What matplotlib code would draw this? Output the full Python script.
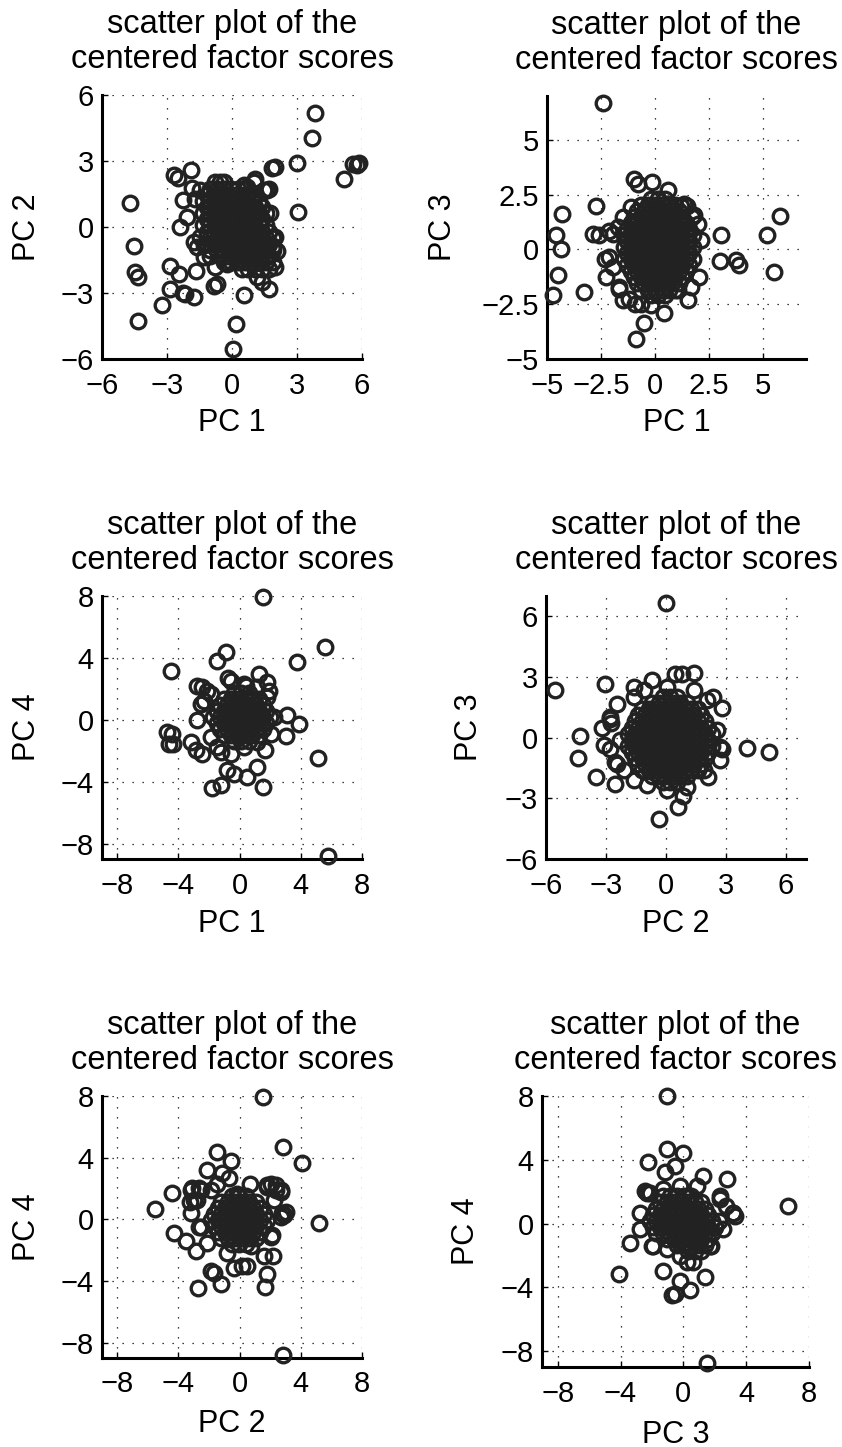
import numpy as np
import matplotlib
matplotlib.use("Agg")
import matplotlib.pyplot as plt

plt.rcParams['font.family'] = ['Liberation Sans', 'DejaVu Sans']

# scattered scores (x, y) for each pair of components
pc1_pc2 = [
    (3.85, 5.18), (3.7, 4.06), (3.0, 2.9), (5.6, 2.85), (5.85, 2.9), (5.75, 2.8), (5.15, 2.2), (3.05, 0.68),
    (-4.72, 1.07), (-4.54, -0.87), (-4.46, -2.05), (-4.35, -2.28), (-4.35, -4.29), (-3.23, -3.55),
    (-2.85, -2.82), (-2.88, -1.78), (-2.43, -2.13), (-2.15, -3.04), (-1.77, -3.2), (-2.27, -2.98),
    (-1.66, -1.98), (-0.85, -2.66), (-0.7, -2.6), (0.57, -3.07), (0.2, -4.41), (0.05, -5.56),
    (1.69, -2.82), (1.38, -2.51), (-2.66, 2.36), (-2.5, 2.25), (-1.89, 2.59), (-2.26, 1.22),
    (-2.38, 0.0), (-2.08, 0.46), (-1.74, -0.68), (1.77, 0.64), (1.85, 2.66), (2.0, 2.74), (1.46, 1.67),
    (1.08, 2.2), (0.54, 1.9), (-0.54, 2.05), (1.72, 1.71), (1.9, -0.86), (-1.86, 1.79),
    (-1.3, -0.8), (-1.0, -1.3), (-0.77, 2.05), (-0.38, 2.05), (-1.46, 1.67), (-1.69, 1.29),
    (-1.46, -0.46), (-1.62, -0.91), (-1.31, -1.37), (-0.77, -1.83), (-0.23, -1.67), (1.15, -2.28),
    (2.0, -1.83), (2.08, -1.07), (2.0, -0.46), (0.69, 1.83), (1.0, 2.05), (1.62, 1.67),
]
pc1_pc3 = [
    (-2.42, 6.68), (-4.32, 1.62), (-4.58, 0.67), (-4.35, 0.03), (-4.5, -1.18), (-4.74, -2.09),
    (-3.27, -1.94), (-2.73, 2.0), (-2.89, 0.71), (-2.58, 0.64), (-2.27, -1.26), (3.06, 0.64),
    (3.02, -0.55), (3.75, -0.5), (3.9, -0.7), (5.17, 0.64), (5.79, 1.52), (5.52, -1.03), (0.43, -2.9),
    (-0.52, -3.38), (-0.88, -4.11), (1.51, -2.29), (-0.96, 3.22), (-0.8, 2.99), (-0.14, 3.07),
    (0.62, 2.69), (1.36, 2.08), (1.5, 2.0), (1.82, 1.55), (2.05, -1.26), (-1.5, -2.3), (-0.91, -2.47),
    (-0.2, -2.55), (-1.68, -1.79), (-2.15, 0.86), (-2.3, -0.43), (-1.73, 1.02), (-1.96, 0.71),
    (-2.11, -0.35), (-1.96, -0.8), (-1.65, -1.71), (-1.19, -2.25), (-0.65, -2.47), (1.05, -1.87),
    (1.67, -1.71), (2.13, 0.41), (1.98, 1.17), (1.74, 1.47), (1.2, 2.0), (-1.11, 1.93), (-1.5, 1.47),
]
pc1_pc4 = [
    (1.53, 7.94), (5.79, -8.78), (5.57, 4.68), (3.73, 3.71), (-4.48, 3.18), (-0.87, 4.36), (-1.51, 3.78),
    (-4.74, -0.79), (-4.41, -0.9), (-4.63, -1.59), (-4.34, -1.55), (-3.21, -1.44), (-2.88, -1.97),
    (-2.45, -2.19), (-1.79, -4.44), (-1.24, -4.23), (-0.85, -3.26), (-0.37, -3.48), (0.5, -3.69),
    (1.16, -3.05), (1.55, -4.33), (1.66, -1.97), (3.08, 0.34), (3.89, -0.26), (3.01, -1.05), (5.13, -2.45),
    (-2.77, 2.21), (-2.45, 2.1), (-2.12, 1.89), (-2.34, 1.24), (-2.77, -0.04), (-0.74, 2.7), (1.29, 2.96),
    (1.81, 2.42), (1.92, 1.89), (0.39, 2.21), (-1.24, -2.08), (-1.9, 1.67), (-2.55, 1.03),
    (-1.9, -1.12), (-1.46, -1.76), (-0.59, -2.19), (0.28, -1.76), (1.16, -1.44), (2.03, -0.9),
    (2.25, 0.17), (1.81, 1.46), (1.16, 2.1), (0.28, 2.32), (-0.59, 2.53),
]
pc2_pc3 = [
    (0.02, 6.67), (-5.53, 2.36), (-3.07, 2.66), (-4.32, 0.07), (-4.42, -1.03), (-3.48, -1.93),
    (-2.53, -2.3), (-0.37, -4.03), (0.58, -3.41), (0.85, -2.89), (4.05, -0.51), (5.15, -0.7),
    (-0.7, 2.85), (0.47, 3.15), (0.8, 3.15), (1.38, 3.18), (2.33, 2.03), (2.8, 1.48), (-1.62, 2.49),
    (2.08, -1.93), (2.8, -0.54), (2.72, -1.11), (-3.2, 0.49), (-3.12, -0.38), (-2.78, -0.54),
    (-2.82, 0.93), (-2.75, 0.72), (-2.45, -1.28), (-2.45, 1.67), (-2.78, 1.02), (-2.28, -0.13),
    (-2.53, -1.2), (-2.12, -1.61), (-1.62, -2.1), (-0.95, -2.34), (0.05, -2.59), (1.05, -2.43),
    (1.88, -1.61), (2.72, -0.46), (2.55, 0.36), (2.05, 1.84), (1.38, 2.33), (0.05, 2.49),
    (-1.12, 2.33), (-1.62, 2.0),
]
pc2_pc4 = [
    (1.55, 7.94), (2.86, -8.78), (2.84, 4.68), (4.06, 3.65), (5.2, -0.21), (-5.55, 0.64), (-4.41, 1.72),
    (-4.3, -0.86), (-3.54, -1.44), (-2.88, -2.08), (-2.73, -4.48), (-1.9, -3.37), (-1.68, -3.48),
    (-1.24, -4.18), (-0.37, -3.15), (0.17, -3.05), (0.5, -3.05), (1.59, -2.36), (2.2, -2.4),
    (1.77, -3.58), (1.66, -4.38), (-1.51, 4.36), (-0.59, 3.76), (-2.12, 3.18), (-0.7, 2.7), (-1.14, 3.0),
    (0.68, 2.32), (-3.1, 2.0), (-2.66, 2.0), (-3.25, 1.14), (-3.21, 0.39), (2.03, 2.32), (2.36, 2.21),
    (2.69, 1.78), (2.9, 0.28), (3.01, 0.49), (2.14, -1.01), (1.81, 2.1), (2.36, 1.89), (2.25, 1.24),
    (2.8, 0.39), (-3.21, 1.89), (-2.99, 1.24), (-2.55, -0.47), (-2.55, 1.89), (-2.77, 1.24),
    (-2.66, -0.47), (-2.12, -1.55), (-0.81, -2.19), (0.72, -1.76), (2.03, -1.12), (2.69, 0.17),
    (2.69, 1.89), (1.81, 2.21), (-0.15, 1.67), (-1.46, 2.32), (-1.9, 1.89),
]
pc3_pc4 = [
    (-1.01, 8.0), (1.52, -8.77), (6.69, 1.1), (-4.07, -3.16), (-3.42, -1.23), (-1.01, 4.68),
    (-0.04, 4.43), (-2.22, 3.85), (-0.53, 3.64), (-1.2, 3.22), (1.22, 2.97), (2.81, 2.77),
    (-1.27, -2.95), (-0.21, -3.58), (0.42, -4.16), (-0.53, -4.41), (-0.74, -4.51), (1.37, -3.33),
    (0.63, -2.43), (2.32, 1.52), (2.74, 1.1), (3.16, 0.69), (3.27, 0.48), (-2.43, 2.04), (-2.11, 1.93),
    (-1.94, -1.39), (1.79, -1.39), (-2.32, 1.93), (-2.74, 0.69), (-2.74, -0.35), (-2.0, -1.39),
    (-1.05, -1.6), (-0.21, -2.02), (0.21, -2.43), (1.69, -1.39), (2.53, -0.35), (3.16, 0.69),
    (2.32, 1.73), (0.84, 2.35), (-0.21, 2.35), (-1.27, 2.14),
]

# densely packed scores near the origin, listed row by row: (y, [x, ...])
core_12 = [
    (1.75, [-1.0, -0.68, -0.36, -0.04, 0.28, 0.6]),
    (1.47, [-1.16, -0.84, -0.52, -0.2, 0.12, 0.44, 0.76, 1.08]),
    (1.19, [-1.32, -1.0, -0.68, -0.36, -0.04, 0.28, 0.6, 0.92, 1.24]),
    (0.91, [-1.16, -0.84, -0.52, -0.2, 0.12, 0.44, 0.76, 1.08, 1.4]),
    (0.63, [-1.32, -1.0, -0.68, -0.36, -0.04, 0.28, 0.6, 0.92, 1.24, 1.56]),
    (0.35, [-1.16, -0.84, -0.52, -0.2, 0.12, 0.44, 0.76, 1.08, 1.4]),
    (0.07, [-1.32, -1.0, -0.68, -0.36, -0.04, 0.28, 0.6, 0.92, 1.24, 1.56]),
    (-0.21, [-1.16, -0.84, -0.52, -0.2, 0.12, 0.44, 0.76, 1.08, 1.4, 1.72]),
    (-0.49, [-1.0, -0.68, -0.36, -0.04, 0.28, 0.6, 0.92, 1.24, 1.56, 1.88]),
    (-0.77, [-1.16, -0.84, -0.52, -0.2, 0.12, 0.44, 0.76, 1.08, 1.4, 1.72]),
    (-1.05, [-1.0, -0.68, -0.36, -0.04, 0.28, 0.6, 0.92, 1.24, 1.56, 1.88]),
    (-1.33, [-0.52, -0.2, 0.12, 0.44, 0.76, 1.08, 1.4, 1.72]),
    (-1.61, [-0.36, -0.04, 0.28, 0.6, 0.92, 1.24, 1.56, 1.88]),
    (-1.89, [0.44, 0.76, 1.08, 1.4, 1.72]),
]
core_13 = [
    (2.3, [-0.17, 0.15, 0.47]),
    (2.02, [-0.65, -0.33, -0.01, 0.31, 0.63, 0.95]),
    (1.75, [-0.81, -0.49, -0.17, 0.15, 0.47, 0.79, 1.11]),
    (1.47, [-0.97, -0.65, -0.33, -0.01, 0.31, 0.63, 0.95, 1.27]),
    (1.2, [-1.13, -0.81, -0.49, -0.17, 0.15, 0.47, 0.79, 1.11, 1.43]),
    (0.92, [-1.29, -0.97, -0.65, -0.33, -0.01, 0.31, 0.63, 0.95, 1.27, 1.59]),
    (0.65, [-1.45, -1.13, -0.81, -0.49, -0.17, 0.15, 0.47, 0.79, 1.11, 1.43, 1.75]),
    (0.37, [-1.29, -0.97, -0.65, -0.33, -0.01, 0.31, 0.63, 0.95, 1.27, 1.59]),
    (0.1, [-1.45, -1.13, -0.81, -0.49, -0.17, 0.15, 0.47, 0.79, 1.11, 1.43, 1.75]),
    (-0.18, [-1.29, -0.97, -0.65, -0.33, -0.01, 0.31, 0.63, 0.95, 1.27, 1.59]),
    (-0.45, [-1.45, -1.13, -0.81, -0.49, -0.17, 0.15, 0.47, 0.79, 1.11, 1.43, 1.75]),
    (-0.73, [-1.29, -0.97, -0.65, -0.33, -0.01, 0.31, 0.63, 0.95, 1.27, 1.59]),
    (-1.0, [-1.13, -0.81, -0.49, -0.17, 0.15, 0.47, 0.79, 1.11, 1.43]),
    (-1.28, [-0.97, -0.65, -0.33, -0.01, 0.31, 0.63, 0.95, 1.27]),
    (-1.55, [-0.81, -0.49, -0.17, 0.15, 0.47, 0.79, 1.11]),
    (-1.83, [-0.65, -0.33, -0.01, 0.31, 0.63, 0.95]),
    (-2.1, [-0.17, 0.15, 0.47]),
]
core_14 = [
    (1.72, [-0.34, 0.12, 0.58]),
    (1.36, [-1.03, -0.57, -0.11, 0.35, 0.81, 1.27]),
    (0.97, [-1.26, -0.8, -0.34, 0.12, 0.58, 1.04, 1.5]),
    (0.58, [-1.49, -1.03, -0.57, -0.11, 0.35, 0.81, 1.27, 1.73]),
    (0.19, [-1.72, -1.26, -0.8, -0.34, 0.12, 0.58, 1.04, 1.5, 1.96]),
    (-0.2, [-1.49, -1.03, -0.57, -0.11, 0.35, 0.81, 1.27, 1.73]),
    (-0.59, [-1.26, -0.8, -0.34, 0.12, 0.58, 1.04, 1.5]),
    (-0.98, [-1.03, -0.57, -0.11, 0.35, 0.81, 1.27]),
    (-1.37, [-0.34, 0.12, 0.58]),
]
core_23 = [
    (2.0, [-0.15, 0.2, 0.55]),
    (1.7, [-0.68, -0.33, 0.02, 0.37, 0.72, 1.07]),
    (1.4, [-1.2, -0.85, -0.5, -0.15, 0.2, 0.55, 0.9, 1.25, 1.6]),
    (1.1, [-1.38, -1.03, -0.68, -0.33, 0.02, 0.37, 0.72, 1.07, 1.42, 1.77]),
    (0.8, [-1.55, -1.2, -0.85, -0.5, -0.15, 0.2, 0.55, 0.9, 1.25, 1.6, 1.95]),
    (0.5, [-1.72, -1.38, -1.03, -0.68, -0.33, 0.02, 0.37, 0.72, 1.07, 1.42, 1.77, 2.12]),
    (0.2, [-1.9, -1.55, -1.2, -0.85, -0.5, -0.15, 0.2, 0.55, 0.9, 1.25, 1.6, 1.95, 2.3]),
    (-0.1, [-1.72, -1.38, -1.03, -0.68, -0.33, 0.02, 0.37, 0.72, 1.07, 1.42, 1.77, 2.12]),
    (-0.4, [-1.9, -1.55, -1.2, -0.85, -0.5, -0.15, 0.2, 0.55, 0.9, 1.25, 1.6, 1.95, 2.3]),
    (-0.7, [-1.72, -1.38, -1.03, -0.68, -0.33, 0.02, 0.37, 0.72, 1.07, 1.42, 1.77, 2.12]),
    (-1.0, [-1.55, -1.2, -0.85, -0.5, -0.15, 0.2, 0.55, 0.9, 1.25, 1.6, 1.95]),
    (-1.3, [-1.38, -1.03, -0.68, -0.33, 0.02, 0.37, 0.72, 1.07, 1.42, 1.77]),
    (-1.6, [-1.2, -0.85, -0.5, -0.15, 0.2, 0.55, 0.9, 1.25, 1.6]),
    (-1.9, [-0.68, -0.33, 0.02, 0.37, 0.72, 1.07]),
    (-2.2, [-0.15, 0.2, 0.55]),
]
core_24 = [
    (1.5, [-0.51, -0.05, 0.41]),
    (1.11, [-1.2, -0.74, -0.28, 0.18, 0.64, 1.1]),
    (0.72, [-1.43, -0.97, -0.51, -0.05, 0.41, 0.87, 1.33]),
    (0.33, [-1.66, -1.2, -0.74, -0.28, 0.18, 0.64, 1.1, 1.56]),
    (-0.06, [-1.89, -1.43, -0.97, -0.51, -0.05, 0.41, 0.87, 1.33, 1.79]),
    (-0.45, [-1.66, -1.2, -0.74, -0.28, 0.18, 0.64, 1.1, 1.56]),
    (-0.84, [-1.43, -0.97, -0.51, -0.05, 0.41, 0.87, 1.33]),
    (-1.23, [-1.2, -0.74, -0.28, 0.18, 0.64, 1.1]),
    (-1.62, [-0.51, -0.05, 0.41]),
]
core_34 = [
    (1.7, [-1.27, -0.83, -0.39, 0.05, 0.49]),
    (1.32, [-1.49, -1.05, -0.61, -0.17, 0.27, 0.71, 1.15]),
    (0.94, [-1.71, -1.27, -0.83, -0.39, 0.05, 0.49, 0.93, 1.37]),
    (0.56, [-1.93, -1.49, -1.05, -0.61, -0.17, 0.27, 0.71, 1.15, 1.59]),
    (0.18, [-2.15, -1.71, -1.27, -0.83, -0.39, 0.05, 0.49, 0.93, 1.37, 1.81, 2.25]),
    (-0.2, [-1.93, -1.49, -1.05, -0.61, -0.17, 0.27, 0.71, 1.15, 1.59, 2.03]),
    (-0.58, [-1.71, -1.27, -0.83, -0.39, 0.05, 0.49, 0.93, 1.37, 1.81]),
    (-0.96, [-1.05, -0.61, -0.17, 0.27, 0.71, 1.15, 1.59]),
    (-1.34, [-0.39, 0.05, 0.49, 0.93, 1.37]),
    (-1.72, [0.27, 0.71, 1.15]),
]

# panel settings: scores, dense rows, x label, y label, limits, ticks
panels = [
    (pc1_pc2, core_12, 'PC 1', 'PC 2', (-6, 6), [-6, -3, 0, 3, 6]),
    (pc1_pc3, core_13, 'PC 1', 'PC 3', (-5, 7), [-5, -2.5, 0, 2.5, 5]),
    (pc1_pc4, core_14, 'PC 1', 'PC 4', (-9, 8), [-8, -4, 0, 4, 8]),
    (pc2_pc3, core_23, 'PC 2', 'PC 3', (-6, 7), [-6, -3, 0, 3, 6]),
    (pc2_pc4, core_24, 'PC 2', 'PC 4', (-9, 8), [-8, -4, 0, 4, 8]),
    (pc3_pc4, core_34, 'PC 3', 'PC 4', (-9, 8), [-8, -4, 0, 4, 8]),
]

# axes boxes in pixels: left, right, top, bottom
boxes = [
    (102, 362, 95, 359), (547, 806, 96, 359),
    (102, 362, 596, 859), (546, 806, 596, 859),
    (102, 362, 1096, 1358), (542, 809, 1096, 1367),
]
ylab_x = [-0.23, -0.345, -0.23, -0.238, -0.23, -0.228]
xlab_y = [-0.185, -0.185, -0.19, -0.19, -0.195, -0.195]


def fmt(v):
    return f'{v:g}'.replace('-', '\u2212')


W, H = 842, 1447
fig = plt.figure(figsize=(W / 100, H / 100), dpi=100)

for (pts, core, xl, yl, lim, ticks), (l, r, t, b), lx, ly in zip(panels, boxes, ylab_x, xlab_y):
    ax = fig.add_axes([l / W, 1 - b / H, (r - l) / W, (b - t) / H])
    pts = pts + [(x, y) for y, xs in core for x in xs]
    pts = np.array(pts)
    ax.plot(pts[:, 0], pts[:, 1], 'o', ms=10.5, mfc='none', mec='#222222', mew=2.4,
            clip_on=False, zorder=3)
    ax.set_xlim(lim)
    ax.set_ylim(lim)
    ax.set_xticks(ticks)
    ax.set_yticks(ticks)
    ax.set_xticklabels([fmt(v) for v in ticks])
    ax.set_yticklabels([fmt(v) for v in ticks])
    ax.grid(True, color='k', linestyle=(0, (1, 7)), linewidth=0.9)
    ax.set_axisbelow(True)
    for s in ['top', 'right']:
        ax.spines[s].set_visible(False)
    for s in ['left', 'bottom']:
        ax.spines[s].set_linewidth(2.2)
    ax.tick_params(direction='in', length=4, width=1, labelsize=21)
    ax.tick_params(axis='x', pad=9)
    ax.tick_params(axis='y', pad=6)
    ax.set_xlabel(xl, fontsize=22)
    ax.set_ylabel(yl, fontsize=22)
    ax.yaxis.set_label_coords(lx, 0.5)
    ax.xaxis.set_label_coords(0.5, ly)
    ax.set_title('scatter plot of the\ncentered factor scores', fontsize=23.5,
                 linespacing=1.16, pad=19.5)

fig.savefig('out.png', dpi=100)
